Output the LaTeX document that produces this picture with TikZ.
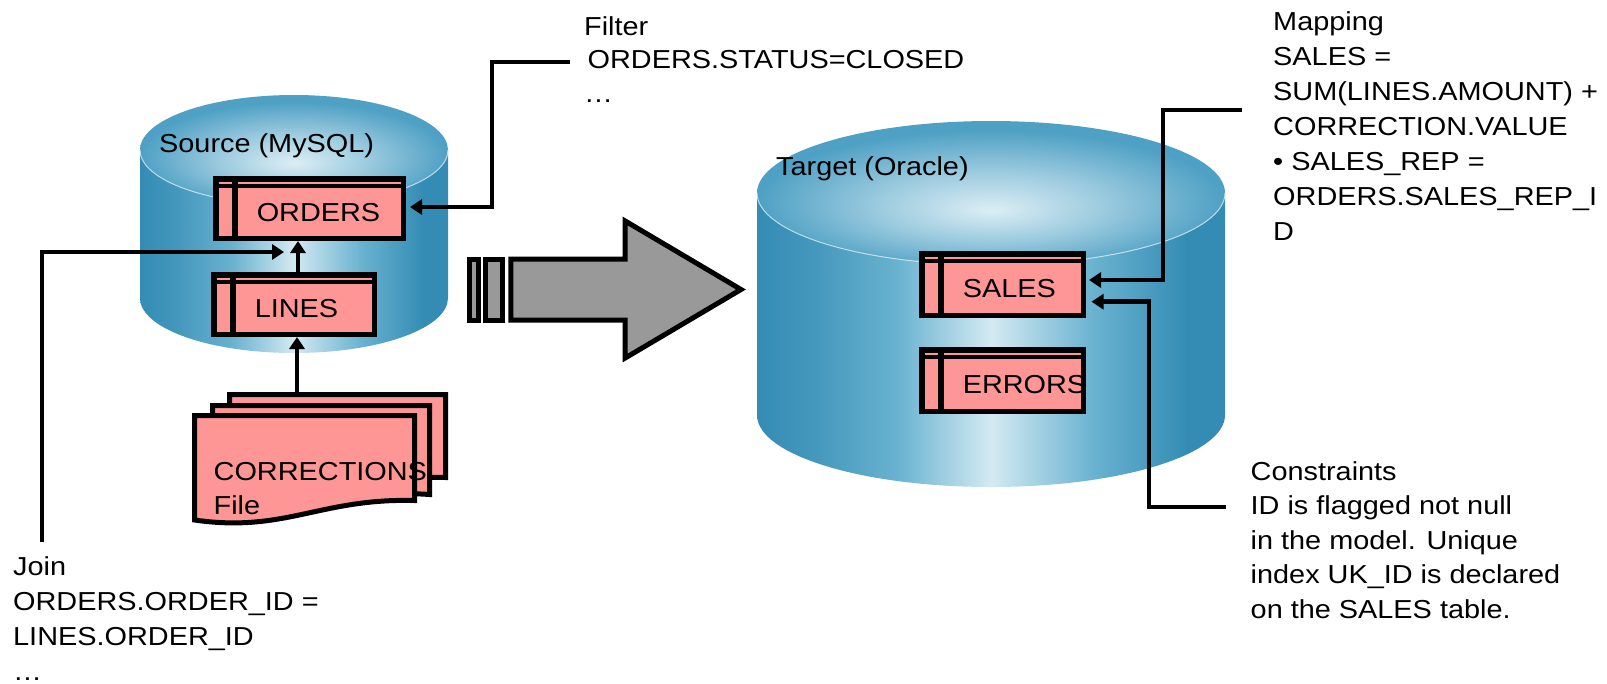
\documentclass[tikz,border=0pt]{standalone}
\usepackage{fontspec}
\setmainfont{Liberation Sans}[FakeStretch=1.11]
\usetikzlibrary{arrows.meta}

\definecolor{cylDark}{RGB}{52,140,180}
\definecolor{cylMid}{RGB}{105,178,208}
\definecolor{cylLight}{RGB}{212,234,242}
\definecolor{topDark}{RGB}{78,160,196}
\definecolor{topLight}{RGB}{220,238,245}
\definecolor{tblpink}{RGB}{255,150,150}
\definecolor{arrowgray}{RGB}{153,153,153}

% side of a database drum: dark edges, light middle
\pgfdeclarehorizontalshading{cylbody}{100bp}{color(0bp)=(cylDark); color(25bp)=(cylDark);
  color(31bp)=(cylDark!70!cylMid); color(40bp)=(cylMid); color(50bp)=(cylLight);
  color(61bp)=(cylMid); color(71bp)=(cylDark); color(100bp)=(cylDark)}
% lid of a database drum
\pgfdeclareradialshading{cyltop}{\pgfpoint{0bp}{-6bp}}{color(0bp)=(topLight);
  color(12bp)=(topLight!55!topDark); color(25bp)=(topDark); color(50bp)=(topDark)}

\begin{document}
\begin{tikzpicture}[x=1pt,y=-1pt,
  % multi-line texts are placed by the baseline of their last line
  txt/.style={font=\fontsize{26}{35}\selectfont, inner sep=0pt, align=left, anchor=base west},
  tbltext/.style={font=\fontsize{26}{35}\selectfont, inner sep=0pt, draw=none, fill=none,
    minimum width=0pt, minimum height=0pt},
  dbtable/.style={draw=black, fill=tblpink, line width=5.5pt, inner sep=0pt,
    path picture={
      \draw[line width=4pt] ([yshift=-6.75pt]path picture bounding box.north west)
        -- ([yshift=-6.75pt]path picture bounding box.north east);
      \draw[line width=5.5pt] ([xshift=19.25pt]path picture bounding box.north west)
        -- ([xshift=19.25pt]path picture bounding box.south west);
      \node[tbltext, anchor=west] at ([xshift=38.25pt, yshift=-4.5pt]path picture bounding box.west) {#1};
    }},
  conn/.style={line width=4.5pt, -{Triangle[length=12pt,width=15pt]}},
  bigarrow/.style={draw=black, fill=arrowgray, line width=5pt},
  docsheet/.style={draw=black, fill=tblpink, line width=5pt},
  rim/.style={draw=cylLight!80!white, line width=1pt, opacity=0.8}
]
\useasboundingbox (0,0) rectangle (1607,683);

% ---------- source database ----------
\shade[shading=cylbody] (140,150) -- (140,298)
  arc[start angle=180,end angle=360,x radius=154pt,y radius=55pt] -- (448,150) -- cycle;
\shade[shading=cyltop] (294,150) ellipse[x radius=154pt,y radius=55pt];
\draw[rim] (140,150) arc[start angle=180,end angle=360,x radius=154pt,y radius=55pt];
\node[txt] (srclabel) at (159,152) {Source (MySQL)};

% ---------- target database ----------
\shade[shading=cylbody] (757,193) -- (757,415)
  arc[start angle=180,end angle=360,x radius=234pt,y radius=72pt] -- (1225,193) -- cycle;
\shade[shading=cyltop] (991,193) ellipse[x radius=234pt,y radius=72pt];
\draw[rim] (757,193) arc[start angle=180,end angle=360,x radius=234pt,y radius=72pt];
\node[txt] (tgtlabel) at (776,175) {Target (Oracle)};

% ---------- tables ----------
\node[dbtable=ORDERS, minimum width=187.5pt, minimum height=59.5pt] (orders) at (309.5,208.5) {};
\node[dbtable=LINES, minimum width=160.5pt, minimum height=59.5pt] (lines) at (294,304.5) {};
\node[dbtable=SALES, minimum width=161.5pt, minimum height=61.5pt] (sales) at (1002.5,284.5) {};
\node[dbtable=ERRORS, minimum width=161.5pt, minimum height=61.5pt] (errors) at (1002.5,380.5) {};

% ---------- corrections file (stack of sheets) ----------
\draw[docsheet] (229.5,394.5) -- (445.5,394.5) -- (445.5,477.5)
  .. controls (355,475) and (320,510) .. (229.5,497) -- cycle;
\draw[docsheet] (212.5,405.5) -- (429.5,405.5) -- (429.5,494.5)
  .. controls (338,488) and (303,523) .. (212.5,510) -- cycle;
\draw[docsheet] (194.5,415.5) -- (414.5,415.5) -- (414.5,500.5)
  .. controls (320,498) and (285,533) .. (194.5,520) -- cycle;
\node[txt, font=\fontsize{26}{34}\selectfont] (corrtext) at (213.5,514) {CORRECTIONS\\File};

% ---------- transfer arrow ----------
\draw[bigarrow] (469.2,259.2) rectangle (478.2,320.2);
\draw[bigarrow] (485.8,259.2) rectangle (502.5,320.2);
\draw[bigarrow] (510.8,259.2) -- (625.2,259.2) -- (625.2,221) -- (741,289.5)
  -- (625.2,358) -- (625.2,320.2) -- (510.8,320.2) -- cycle;

% ---------- annotations ----------
\node[txt, font=\fontsize{26}{33.5}\selectfont] (filter) at (584,102)
  {Filter\\\hspace*{3.5pt}ORDERS.STATUS=CLOSED\\…};
\node[txt] (mapping) at (1273,240)
  {Mapping\\SALES =\\SUM(LINES.AMOUNT) +\\CORRECTION.VALUE\\• SALES\_REP =\\ORDERS.SALES\_REP\_I\\D};
\node[txt] (join) at (13,680) {Join\\ORDERS.ORDER\_ID =\\LINES.ORDER\_ID\\…};
\node[txt, font=\fontsize{26}{34.5}\selectfont] (constraints) at (1250.5,618)
  {Constraints\\ID is flagged not null\\in the model. Unique\\index UK\_ID is declared\\on the SALES table.};

% ---------- connectors ----------
\coordinate (filterend) at (570,62);
\coordinate (joinfoot) at (42,542);
\coordinate (jointip) at (284,252);
\coordinate (corrtop) at (297,392);
\coordinate (mapend) at (1242,110);
\coordinate (consend) at (1226,507);

\draw[conn, shorten >=4pt] (filterend) -- (492,62) |- ([yshift=1.5pt]orders.east);
\draw[conn] (joinfoot) |- (jointip);
\draw[conn] ([xshift=4pt]lines.north) -- ([xshift=4pt]lines.north |- orders.south);
\draw[conn] (corrtop) -- (corrtop |- lines.south);
\draw[conn, shorten >=3pt] (mapend) -- (1163,110) |- ([yshift=4.5pt]sales.east);
\draw[conn, shorten >=5.5pt] (consend) -- (1149,507) |- ([yshift=-17.2pt]sales.east);
\end{tikzpicture}
\end{document}
